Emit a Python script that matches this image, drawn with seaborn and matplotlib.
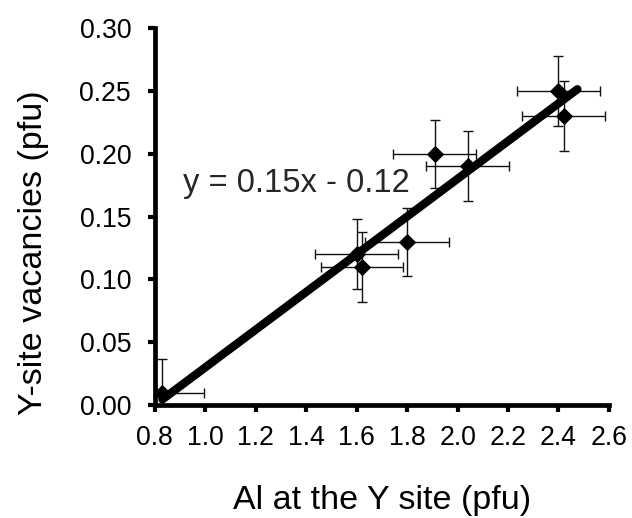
import matplotlib
matplotlib.use('Agg')
import numpy as np
import pandas as pd
import seaborn as sns
import matplotlib.pyplot as plt

# Al at the Y site (pfu) and Y-site vacancies (pfu)
al_y = [0.83, 1.60, 1.62, 1.80, 1.91, 2.04, 2.40, 2.42]
vac_y = [0.01, 0.12, 0.11, 0.13, 0.20, 0.19, 0.25, 0.23]
al_err = [0.165, 0.165, 0.163, 0.165, 0.165, 0.165, 0.165, 0.165]
vac_err = [0.027, 0.028, 0.028, 0.027, 0.027, 0.028, 0.028, 0.028]

# trendline as printed on the chart
slope = 0.15
intercept = -0.12
fit_range = [0.83, 2.475]

x_ticks = [0.8, 1.0, 1.2, 1.4, 1.6, 1.8, 2.0, 2.2, 2.4, 2.6]
y_ticks = [0.00, 0.05, 0.10, 0.15, 0.20, 0.25, 0.30]


def main():
    sns.set_style('ticks')
    plt.rcParams['font.family'] = ['Liberation Sans', 'DejaVu Sans']

    df = pd.DataFrame({'al': al_y, 'vac': vac_y, 'xe': al_err, 'ye': vac_err})
    fit = pd.DataFrame({'al': fit_range})
    fit['vac'] = slope * fit['al'] + intercept

    fig = plt.figure(figsize=(6.32, 5.18), dpi=100)
    ax = fig.add_axes([0.245, 0.218, 0.7185, 0.728])

    ax.errorbar(df['al'], df['vac'], xerr=df['xe'], yerr=df['ye'], fmt='none',
                ecolor='#111111', elinewidth=1.0, capsize=3.5, capthick=1.0, zorder=2)
    sns.scatterplot(x='al', y='vac', data=df, ax=ax, marker='D', s=78,
                    color='black', edgecolor='black', linewidth=0, zorder=3)
    sns.lineplot(x='al', y='vac', data=fit, ax=ax, color='black', linewidth=6,
                 solid_capstyle='round', zorder=4)

    ax.text(0.91, 0.176, 'y = 0.15x - 0.12', fontsize=23.5, ha='left', va='center')

    ax.set_xlim(0.8, 2.6)
    ax.set_ylim(0.0, 0.30)
    ax.set_xticks(x_ticks)
    ax.set_yticks(y_ticks)
    ax.set_xticklabels(['%.1f' % t for t in x_ticks])
    ax.set_yticklabels(['%.2f' % t for t in y_ticks])
    sns.despine(ax=ax)
    for s in ['left', 'bottom']:
        ax.spines[s].set_linewidth(3.4)
        ax.spines[s].set_color('black')
    ax.tick_params(axis='both', direction='out', length=5, width=3, color='black',
                   labelsize=19.2, labelcolor='black')
    ax.tick_params(axis='x', pad=9)
    ax.tick_params(axis='y', pad=12)

    ax.set_xlabel('Al at the Y site (pfu)', fontsize=24.5, labelpad=25, color='black')
    ax.set_ylabel('Y-site vacancies (pfu)', fontsize=24.5, color='black')
    ax.yaxis.set_label_coords(-0.232, 0.405)

    fig.savefig('out.png', dpi=100)


if __name__ == '__main__':
    main()
